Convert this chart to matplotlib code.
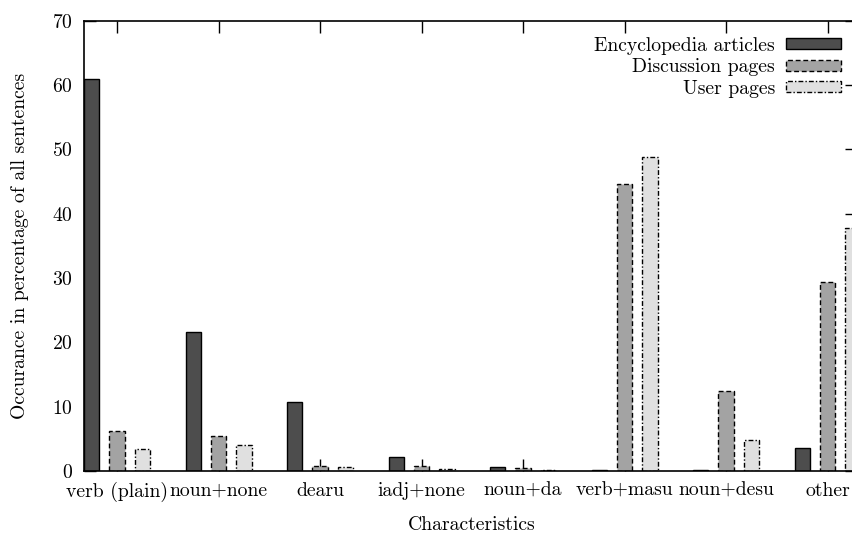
import matplotlib
matplotlib.use("Agg")
import matplotlib.pyplot as plt
from matplotlib.patches import Patch
import numpy as np

plt.rcParams['font.family'] = ['cmr10', 'DejaVu Serif']
plt.rcParams['axes.formatter.use_mathtext'] = True

categories = ["verb (plain)", "noun+none", "dearu", "iadj+none", "noun+da",
              "verb+masu", "noun+desu", "other"]
series_names = ["Encyclopedia articles", "Discussion pages", "User pages"]
encyclopedia = [61.0, 21.6, 10.8, 2.2, 0.6, 0.15, 0.1, 3.65]
discussion = [6.2, 5.5, 0.8, 0.7, 0.4, 44.6, 12.45, 29.4]
user = [3.35, 4.05, 0.55, 0.25, 0.15, 48.8, 4.75, 37.85]
yticks = [0, 10, 20, 30, 40, 50, 60, 70]

FS = 14.2
W, H = 853, 533
fig = plt.figure(figsize=(W / 100, H / 100), dpi=100)
left_px, right_px, top_px, bot_px = 84, 857, 20.7, 471
ax = fig.add_axes([left_px / W, 1 - bot_px / H, (right_px - left_px) / W,
                   (bot_px - top_px) / H])

fills = ["#4d4d4d", "#a3a3a3", "#e0e0e0"]
styles = ["-", (0, (3.5, 2.0)), (0, (3.5, 1.5, 1, 1.5))]
data = [encyclopedia, discussion, user]
x = np.arange(len(categories)) * 4.0
width = 0.6
for j, vals in enumerate(data):
    ax.bar(x + (j - 1), vals, width=width, color=fills[j], edgecolor="black",
           linewidth=1.0, linestyle=styles[j], zorder=2)

slot_px = 25.38
xmin = -1.3
xmax = xmin + (right_px - left_px) / slot_px
ax.set_xlim(xmin, xmax)
ax.set_ylim(0, 70)
ax.set_xticks(x)
ax.set_xticklabels(categories)
ax.set_yticks(yticks)
ax.set_axisbelow(True)
ax.tick_params(direction="in", length=8.5, width=1.0, top=True, right=True,
               labelsize=FS, pad=8)
ax.tick_params(axis="x", pad=8)
for s in ax.spines.values():
    s.set_linewidth(1.2)

handles = [Patch(facecolor=fills[j], edgecolor="black", linewidth=1.0,
                 linestyle=styles[j]) for j in range(3)]
ax.legend(handles, series_names, loc="upper right", frameon=False,
          markerfirst=False, fontsize=FS, handlelength=2.79,
          handleheight=0.5, labelspacing=0.18, handletextpad=0.56,
          borderpad=0.0, borderaxespad=0.81)

fig.text(472 / W, 1 - 525 / H, "Characteristics", ha="center", va="center",
         fontsize=FS)
fig.text(20 / W, 1 - 246 / H, "Occurance in percentage of all sentences",
         ha="center", va="center", rotation=90, fontsize=FS)

fig.savefig("out.png", dpi=100)
